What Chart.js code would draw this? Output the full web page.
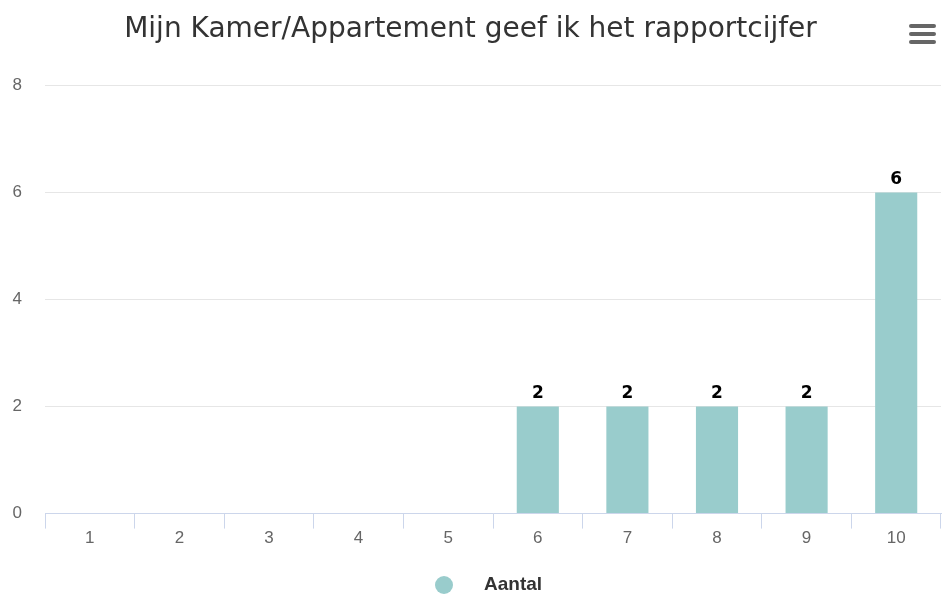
<!DOCTYPE html>
<html>
<head>
<meta charset="utf-8">
<title>Rapportcijfer kamer</title>
<script src="https://cdn.jsdelivr.net/npm/chart.js@4.4.1/dist/chart.umd.min.js"></script>
<style>
    html, body { margin: 0; padding: 0; background: #ffffff; }
    #wrap { width: 942px; height: 597px; position: relative; }
</style>
</head>
<body>
<div id="wrap"><canvas id="cijferchart"></canvas></div>
<script>
"use strict";

/* data */
var titel = 'Mijn Kamer/Appartement geef ik het rapportcijfer';
var cijfers = ['1', '2', '3', '4', '5', '6', '7', '8', '9', '10'];
var aantal = [0, 0, 0, 0, 0, 2, 2, 2, 2, 6];
var yTicks = [0, 2, 4, 6, 8];
var serieNaam = 'Aantal';

var barColor = '#99cccc';

/* value labels above the bars */
var valueLabels = {
    id: 'valueLabels',
    afterDatasetsDraw: function (chart) {
        var ctx = chart.ctx;
        var meta = chart.getDatasetMeta(0);
        ctx.save();
        ctx.font = 'bold 17px "DejaVu Sans"';
        ctx.fillStyle = '#000000';
        ctx.textAlign = 'center';
        ctx.textBaseline = 'bottom';
        meta.data.forEach(function (bar, i) {
            var v = chart.data.datasets[0].data[i];
            if (!v) return;
            ctx.fillText(v, bar.x, bar.y - 5);
        });
        ctx.restore();
    }
};

/* legend item and menu icon */
var extras = {
    id: 'extras',
    afterDraw: function (chart) {
        var ctx = chart.ctx;
        ctx.save();
        // legend
        ctx.fillStyle = chart.data.datasets[0].backgroundColor;
        ctx.beginPath();
        ctx.arc(444, 585, 9, 0, Math.PI * 2);
        ctx.fill();
        ctx.fillStyle = '#333333';
        ctx.font = 'bold 19px "Liberation Sans"';
        ctx.textAlign = 'left';
        ctx.textBaseline = 'middle';
        ctx.fillText(chart.data.datasets[0].label, 484, 585);
        // menu icon
        ctx.strokeStyle = '#666666';
        ctx.lineWidth = 4;
        ctx.lineCap = 'round';
        [26, 34, 42].forEach(function (y) {
            ctx.beginPath();
            ctx.moveTo(911, y);
            ctx.lineTo(934, y);
            ctx.stroke();
        });
        ctx.restore();
    }
};

var chartEl = document.getElementById('cijferchart').getContext('2d');
var cijferChart = new Chart(chartEl, {
    type: 'bar',
    data: {
        labels: cijfers,
        datasets: [{
            label: serieNaam,
            data: aantal,
            backgroundColor: barColor,
            borderWidth: 0,
            barPercentage: 0.47,
            categoryPercentage: 1
        }]
    },
    options: {
        responsive: true,
        maintainAspectRatio: false,
        animation: false,
        layout: {
            padding: { left: 0, right: 1, top: 0, bottom: 48 }
        },
        plugins: {
            legend: { display: false },
            tooltip: { enabled: false },
            title: {
                display: true,
                text: titel,
                color: '#333333',
                font: { family: '"DejaVu Sans"', size: 28, weight: 'normal' },
                padding: { top: 13, bottom: 39 }
            }
        },
        scales: {
            x: {
                offset: true,
                grid: {
                    offset: true,
                    drawOnChartArea: false,
                    drawTicks: true,
                    tickLength: 15,
                    color: '#ccd6eb'
                },
                border: { display: true, color: '#ccd6eb' },
                ticks: {
                    color: '#666666',
                    padding: 0,
                    font: { family: '"Liberation Sans"', size: 17 }
                }
            },
            y: {
                min: 0,
                max: 8,
                afterFit: function (scale) { scale.width = 45; },
                afterBuildTicks: function (scale) {
                    scale.ticks = yTicks.map(function (v) { return { value: v }; });
                },
                grid: {
                    color: '#e6e6e6',
                    drawTicks: false
                },
                border: { display: false },
                ticks: {
                    color: '#666666',
                    padding: 23,
                    font: { family: '"Liberation Sans"', size: 17 }
                }
            }
        }
    },
    plugins: [valueLabels, extras]
});
</script>
</body>
</html>
